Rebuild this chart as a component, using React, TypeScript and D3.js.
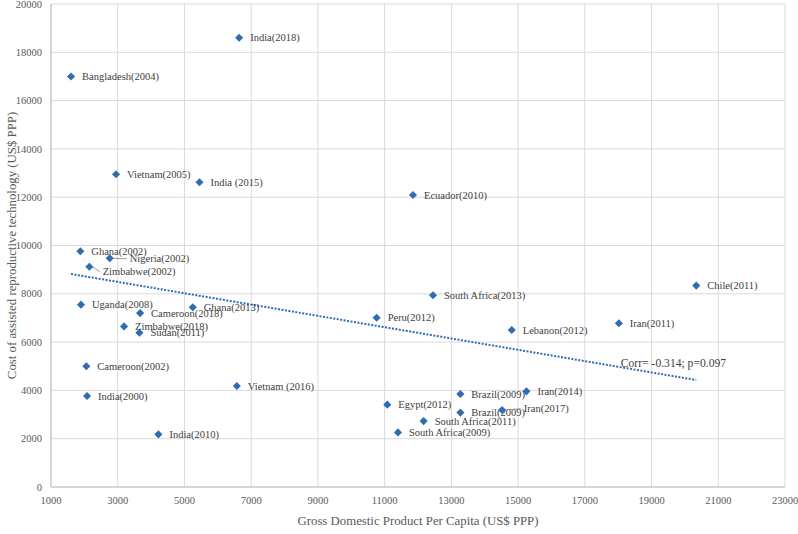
import React from "react";
import * as d3 from "d3";

const labels = [
  "India(2018)", "Bangladesh(2004)", "Vietnam(2005)", "India (2015)", "Ecuador(2010)",
  "Ghana(2002)", "Nigeria(2002)", "Zimbabwe(2002)", "Uganda(2008)", "Cameroon(2018)",
  "Ghana(2013)", "Zimbabwe(2018)", "Sudan(2011)", "Cameroon(2002)", "India(2000)",
  "Vietnam (2016)", "India(2010)", "South Africa(2013)", "Peru(2012)", "Lebanon(2012)",
  "Brazil(2009)", "Iran(2014)", "Egypt(2012)", "Brazil(2009)", "Iran(2017)",
  "South Africa(2011)", "South Africa(2009)", "Chile(2011)", "Iran(2011)",
];
const gdp = [
  6640, 1600, 2950, 5450, 11850,
  1880, 2760, 2150, 1900, 3670,
  5250, 3190, 3650, 2060, 2080,
  6570, 4220, 12450, 10760, 14810,
  13270, 15250, 11080, 13270, 14520,
  12170, 11400, 20340, 18020,
];
const cost = [
  18600, 17000, 12950, 12620, 12090,
  9760, 9470, 9120, 7550, 7200,
  7440, 6650, 6390, 5000, 3770,
  4180, 2180, 7940, 7010, 6500,
  3850, 3960, 3410, 3080, 3190,
  2730, 2260, 8340, 6780,
];
// labels moved away from their points (offset in data units), with leader lines
const movedLabel: Record<number, [number, number]> = {
  6: [600, -20],
  7: [400, -200],
  24: [650, 50],
};
const xTicks = d3.range(1000, 23001, 2000);
const yTicks = d3.range(0, 20001, 2000);
const trendX = [1600, 20340];
const trendY = [8820, 4430];
const corrText = "Corr= -0.314; p=0.097";
const xTitle = "Gross Domestic Product Per Capita (US$ PPP)";
const yTitle = "Cost of assisted reproductive technology (US$ PPP)";

const W = 798, H = 534;
const left = 51, right = 785, top = 4, bottom = 487;
const blue = "#2f6db3";
const textColor = "#404040";
const font = "Liberation Serif, serif";

export default function App() {
  const x = d3.scaleLinear().domain([1000, 23000]).range([left, right]);
  const y = d3.scaleLinear().domain([0, 20000]).range([bottom, top]);
  const diamond = d3.symbol().type(d3.symbolDiamond2).size(42)();
  const trendLine = d3.line<number>().x((_, i) => x(trendX[i])).y((v) => y(v))(trendY);
  const ts = { fontFamily: font };

  return (
    <div style={{ position: "absolute", left: 0, top: 0 }}>
      <svg width={W} height={H} style={{ display: "block", background: "#fff", fontFamily: font }}>
        <rect width={W} height={H} fill="#fff" />
        {xTicks.map((t) => (
          <line key={"gx" + t} x1={x(t)} x2={x(t)} y1={top} y2={bottom} stroke="#d9d9d9" strokeWidth={1} />
        ))}
        {yTicks.map((t) => (
          <line key={"gy" + t} x1={left} x2={right} y1={y(t)} y2={y(t)} stroke="#d9d9d9" strokeWidth={1} />
        ))}
        <line x1={left} x2={right} y1={bottom} y2={bottom} stroke="#bfbfbf" strokeWidth={1} />
        <line x1={left} x2={left} y1={top} y2={bottom} stroke="#bfbfbf" strokeWidth={1} />
        {xTicks.map((t) => (
          <text key={"tx" + t} x={x(t)} y={bottom + 17} textAnchor="middle" fontSize={10.5} fill="#595959" style={ts}>
            {t}
          </text>
        ))}
        {yTicks.map((t) => (
          <text key={"ty" + t} x={left - 9} y={y(t)} dy="0.35em" textAnchor="end" fontSize={10.5} fill="#595959" style={ts}>
            {t}
          </text>
        ))}
        <text x={(left + right) / 2} y={525} textAnchor="middle" fontSize={12.8} fill="#595959" style={ts}>
          {xTitle}
        </text>
        <text
          transform={`translate(12, ${(top + bottom) / 2}) rotate(-90)`}
          textAnchor="middle"
          dy="0.35em"
          fontSize={12.8}
          fill="#595959"
          style={ts}
        >
          {yTitle}
        </text>
        <path d={trendLine || ""} fill="none" stroke={blue} strokeWidth={2} strokeDasharray="2 1.5" />
        {gdp.map((g, i) => {
          const px = x(g), py = y(cost[i]);
          const mv = movedLabel[i];
          if (mv) {
            const lx = x(g + mv[0]), ly = y(cost[i] + mv[1]);
            return (
              <g key={"l" + i}>
                <line x1={px + 3} y1={py} x2={lx - 3} y2={ly} stroke="#808080" strokeWidth={0.8} />
                <text x={lx} y={ly} dy="0.35em" fontSize={10.5} fill={textColor} style={ts}>{labels[i]}</text>
              </g>
            );
          }
          return (
            <text key={"l" + i} x={px + 11} y={py} dy="0.35em" fontSize={10.5} fill={textColor} style={ts}>
              {labels[i]}
            </text>
          );
        })}
        {gdp.map((g, i) => (
          <path key={"p" + i} d={diamond || ""} transform={`translate(${x(g)},${y(cost[i])})`} fill={blue} />
        ))}
        <text x={x(18080)} y={y(4960)} fontSize={11.6} fill={textColor} style={ts}>
          {corrText}
        </text>
      </svg>
    </div>
  );
}
